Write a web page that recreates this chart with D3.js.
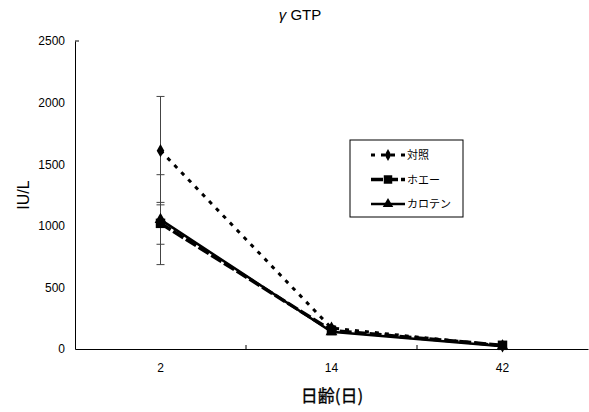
<!DOCTYPE html>
<html>
<head>
<meta charset="utf-8">
<script src="https://cdn.jsdelivr.net/npm/d3@7"></script>
<style>
	body{margin:0;background:#fff}
	text{fill:#000}
</style>
</head>
<body>
<div id="chart"></div>
<script>
// data
var days=["2","14","42"]
var seriesNames=["対照","ホエー","カロテン"]
var control=[1610,170,25]
var whey=[1020,150,30]
var carotene=[1050,140,22]
var controlErr=[440,20,8]
var wheyErr=[170,18,8]
var caroteneErr=[365,15,6]
var yTicks=[0,500,1000,1500,2000,2500]

var W=589,H=412
var jp='"Noto Sans CJK JP",sans-serif'
var lat='"Liberation Sans",Arial,sans-serif'
var svg=d3.select("#chart").append("svg").attr("width",W).attr("height",H)

var x=d3.scaleBand().domain(days).range([75,588])
var y=d3.scaleLinear().domain([0,2500]).range([349,41])
var cx=function(d){return x(d)+x.bandwidth()/2}

// title
var t=svg.append("text").attr("x",300).attr("y",20).attr("text-anchor","middle")
	.style("font-family",lat).style("font-size","15px")
t.append("tspan").style("font-style","italic").text("γ")
t.append("tspan").text(" GTP")

// axes
var gy=svg.append("g").attr("transform","translate(75,0)")
	.call(d3.axisLeft(y).tickValues(yTicks).tickFormat(d3.format("d")).tickSize(0).tickPadding(10))
gy.select(".domain").attr("stroke","#000")
gy.selectAll("text").style("font-size","12px").style("font-family",lat)
svg.append("line").attr("x1",75).attr("x2",79).attr("y1",y(2500)).attr("y2",y(2500)).attr("stroke","#000")

var gx=svg.append("g").attr("transform","translate(0,349)")
	.call(d3.axisBottom(x).tickSize(0).tickPadding(14))
gx.select(".domain").attr("stroke","#000")
gx.selectAll("text").style("font-size","12px").style("font-family",lat)
// inner ticks between categories
svg.selectAll(".btick").data(days.slice(1)).enter().append("line")
	.attr("x1",d=>x(d)).attr("x2",d=>x(d)).attr("y1",349).attr("y2",345).attr("stroke","#000")

svg.append("text").attr("transform","translate(29,195) rotate(-90)")
	.attr("text-anchor","middle").style("font-family",lat).style("font-size","16px").text("IU/L")
svg.append("text").attr("x",332).attr("y",402).attr("text-anchor","middle")
	.style("font-family",jp).style("font-size","17px").style("stroke","#000").style("stroke-width","0.3").text("日齢(日)")

var series=[
	{name:seriesNames[0],vals:control,err:controlErr,dash:"4,6",w:3,shape:d3.symbolDiamond,size:50},
	{name:seriesNames[1],vals:whey,err:wheyErr,dash:"12,3",w:3.5,shape:d3.symbolSquare,size:90},
	{name:seriesNames[2],vals:carotene,err:caroteneErr,dash:null,w:2.5,shape:d3.symbolTriangle,size:60}
]

var line=d3.line().x((d,i)=>cx(days[i])).y(d=>y(d))

// error bars
series.forEach(function(s){
	var g=svg.append("g")
	s.vals.forEach(function(v,i){
		var px=cx(days[i])
		g.append("line").attr("x1",px).attr("x2",px).attr("y1",y(v+s.err[i])).attr("y2",y(v-s.err[i]))
			.attr("stroke","#444").attr("stroke-width",1)
		;[v+s.err[i],v-s.err[i]].forEach(function(e){
			g.append("line").attr("x1",px-4).attr("x2",px+4).attr("y1",y(e)).attr("y2",y(e))
				.attr("stroke","#444").attr("stroke-width",1)
		})
	})
})

series.forEach(function(s){
	svg.append("path").datum(s.vals).attr("d",line).attr("fill","none")
		.attr("stroke","#000").attr("stroke-width",s.w).attr("stroke-dasharray",s.dash)
	svg.selectAll(null).data(s.vals).enter().append("path")
		.attr("d",d3.symbol().type(s.shape).size(s.size))
		.attr("transform",(d,i)=>"translate("+cx(days[i])+","+y(d)+")")
		.attr("fill","#000")
})

// legend
var lg=svg.append("g")
lg.append("rect").attr("x",350).attr("y",140).attr("width",113).attr("height",77)
	.attr("fill","#fff").attr("stroke","#000")
series.forEach(function(s,i){
	var ly=155+i*24.5
	lg.append("line").attr("x1",371).attr("x2",405).attr("y1",ly).attr("y2",ly)
		.attr("stroke","#000").attr("stroke-width",s.w).attr("stroke-dasharray",s.dash)
	lg.append("path").attr("d",d3.symbol().type(s.shape).size(s.size*0.8)())
		.attr("transform","translate(388,"+ly+")").attr("fill","#000")
	lg.append("text").attr("x",407).attr("y",ly+4).style("font-family",jp).style("font-size","11px").text(s.name)
})
</script>
</body>
</html>
